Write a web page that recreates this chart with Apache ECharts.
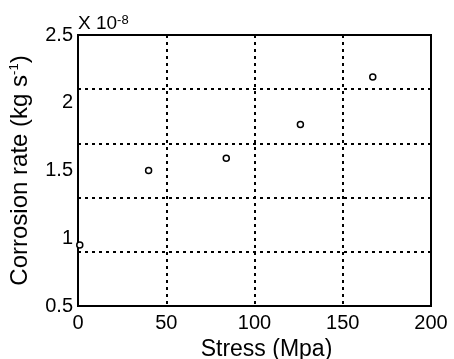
<!DOCTYPE html>
<html>
<head>
<meta charset="utf-8">
<script src="https://cdn.jsdelivr.net/npm/echarts@6/dist/echarts.min.js"></script>
<style>
  html, body { margin: 0; padding: 0; background: #fff; }
  #chart { width: 454px; height: 359px; }
</style>
</head>
<body>
<div id="chart"></div>
<script>
// stress (MPa) and corrosion rate (x 1e-8 kg/s)
const stress = [1, 40, 84, 126, 167];
const rate = [0.95, 1.5, 1.59, 1.84, 2.19];
const xTicks = [0, 50, 100, 150, 200];
const yTicks = [0.5, 1, 1.5, 2, 2.5];

const font = 'Liberation Sans, Arial, sans-serif';
const myChart = echarts.init(document.getElementById('chart'));

const option = {
    animation: false,
    graphic: [
        {
            type: 'text',
            left: 78,
            top: 14,
            style: {
                text: '{a|X 10}{b|-8}',
                rich: {
                    a: { fontFamily: font, fontSize: 19, fill: '#000' },
                    b: { fontFamily: font, fontSize: 13, fill: '#000', verticalAlign: 'top' }
                }
            }
        }
    ],
    grid: {
        left: 78,
        right: 23,
        top: 35,
        bottom: 53,
        outerBoundsMode: 'none',
        containLabel: false,
        show: true,
        borderColor: '#000',
        borderWidth: 2
    },
    xAxis: {
        type: 'value',
        min: xTicks[0],
        max: xTicks[xTicks.length - 1],
        interval: 50,
        name: 'Stress (Mpa)',
        nameLocation: 'middle',
        nameGap: 32,
        nameTextStyle: { fontFamily: font, fontSize: 23, color: '#000', padding: [0, 0, 0, 24] },
        axisLine: { lineStyle: { color: '#000', width: 2 } },
        axisTick: { show: false },
        axisLabel: { fontFamily: font, fontSize: 20, color: '#000', margin: 7 },
        splitLine: {
            show: true,
            showMinLine: false,
            showMaxLine: false,
            lineStyle: { color: '#000', type: [3, 4], width: 2 }
        }
    },
    yAxis: [
        {
            type: 'value',
            min: yTicks[0],
            max: yTicks[yTicks.length - 1],
            interval: 0.5,
            name: 'Corrosion rate (kg s{sup|-1})',
            nameLocation: 'middle',
            nameGap: 46,
            nameTextStyle: {
                fontFamily: font, fontSize: 24, color: '#000',
                rich: {
                    sup: { fontFamily: font, fontSize: 13, color: '#000', verticalAlign: 'top' }
                }
            },
            axisLine: { show: true, lineStyle: { color: '#000', width: 2 } },
            axisTick: { show: false },
            axisLabel: {
                fontFamily: font, fontSize: 20, color: '#000', margin: 5,
                verticalAlignMinLabel: 'middle',
                verticalAlignMaxLabel: 'middle'
            },
            splitLine: { show: false }
        },
        {
            // dotted grid lines sit at 0.9, 1.3, 1.7, 2.1 (offset by 0.5)
            type: 'value',
            position: 'left',
            min: 0,
            max: 2,
            interval: 0.4,
            axisLine: { show: false },
            axisTick: { show: false },
            axisLabel: { show: false },
            splitLine: {
                show: true,
                showMinLine: false,
                showMaxLine: false,
                lineStyle: { color: '#000', type: [3, 4], width: 2 }
            }
        }
    ],
    series: [
        {
            type: 'scatter',
            yAxisIndex: 0,
            data: stress.map((x, i) => [x, rate[i]]),
            symbol: 'circle',
            symbolSize: 6,
            clip: true,
            itemStyle: {
                color: '#fff',
                borderColor: '#000',
                borderWidth: 1.5,
                opacity: 1
            }
        }
    ]
};

myChart.setOption(option);
window.addEventListener('resize', myChart.resize);
</script>
</body>
</html>
